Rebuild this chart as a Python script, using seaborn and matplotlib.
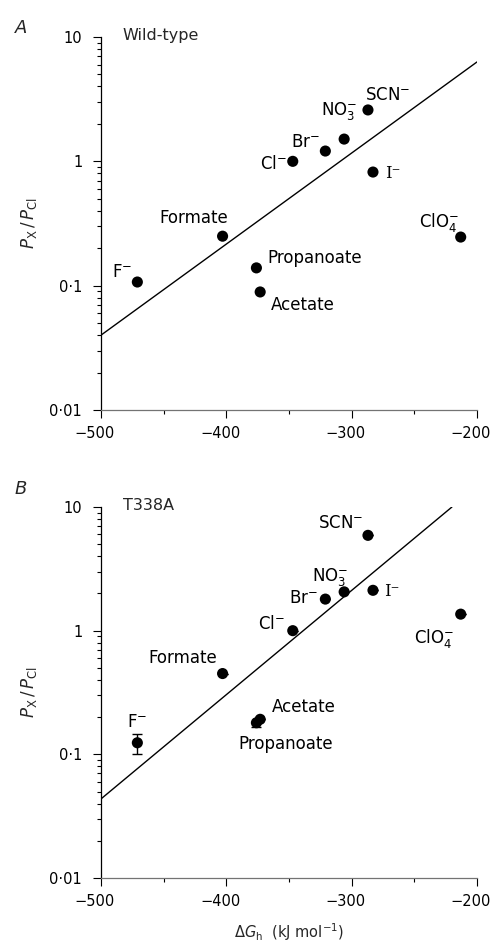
import matplotlib
matplotlib.use("Agg")
import matplotlib.pyplot as plt
from matplotlib.ticker import FixedLocator, FixedFormatter, LogLocator, NullFormatter
from matplotlib.transforms import ScaledTranslation
import seaborn as sns
import pandas as pd

# Hydration free energy of each anion (kJ/mol)
anions = ["F", "Cl", "Br", "I", "NO3", "SCN", "ClO4", "Formate", "Acetate", "Propanoate"]
delta_g = [-471, -347, -321, -283, -306, -287, -213, -403, -373, -376]

# Relative permeability P_X / P_Cl
p_wild = [0.107, 1.0, 1.21, 0.82, 1.51, 2.59, 0.246, 0.25, 0.089, 0.139]
p_t338a = [0.124, 1.0, 1.80, 2.12, 2.06, 5.9, 1.36, 0.45, 0.192, 0.180]

# Error bars (lower, upper) for the mutant
err_lo_t338a = [0.024, 0, 0, 0, 0, 0, 0, 0, 0, 0.013]
err_hi_t338a = [0.021, 0, 0, 0, 0, 0, 0, 0, 0, 0.0]

# Fitted lines (end points)
fit_x_wild = [-500, -200]
fit_y_wild = [0.040, 6.3]
fit_x_t338a = [-500, -220]
fit_y_t338a = [0.0436, 10.0]

y_ticks = [0.01, 0.1, 1, 10]
y_tick_labels = ["0\u00b701", "0\u00b71", "1", "10"]
x_ticks = [-500, -400, -300, -200]
x_tick_labels = ["\u2212500", "\u2212400", "\u2212300", "\u2212200"]

label_text = {
    "F": "F$^{-}$", "Cl": "Cl$^{-}$", "Br": "Br$^{-}$", "I": "I\u207b",
    "NO3": "NO$_3^{-}$", "SCN": "SCN$^{-}$", "ClO4": "ClO$_4^{-}$",
    "Formate": "Formate", "Acetate": "Acetate", "Propanoate": "Propanoate",
}

# label placement: (dx px, dy px downward, ha)
place_wild = {
    "SCN": (-3, -10, "left"), "NO3": (13, -24, "right"), "Br": (-5, -4, "right"),
    "Cl": (-6, 8, "right"), "I": (12, 6, "left"), "ClO4": (-2, -10, "right"),
    "Formate": (-29, -13, "center"), "Propanoate": (11, -5, "left"),
    "Acetate": (11, 18, "left"), "F": (-5, -5, "right"),
}
place_t338a = {
    "SCN": (-5, -7, "right"), "NO3": (4, -11, "right"), "Br": (-7, 4, "right"),
    "I": (11, 6, "left"), "Cl": (-8, -2, "right"), "ClO4": (-7, 29, "right"),
    "Formate": (-5, -11, "right"), "Acetate": (12, -7, "left"),
    "Propanoate": (-18, 26, "left"), "F": (0, -16, "center"),
}

sns.set_theme(style="ticks")
plt.rcParams["font.family"] = ["DejaVu Sans"]
plt.rcParams["mathtext.fontset"] = "dejavusans"

W, H = 495, 944
fig = plt.figure(figsize=(W / 100, H / 100), dpi=100)
axA = fig.add_axes([101 / W, 1 - 410 / H, 376 / W, 373 / H])
axB = fig.add_axes([101 / W, 1 - 878 / H, 376 / W, 371 / H])


def draw_panel(ax, pvals, fit_x, fit_y, place, title, letter, letter_top_px, err=None):
    df = pd.DataFrame({"dG": delta_g, "P": pvals, "anion": anions})
    ax.set_yscale("log")
    ax.set_xlim(-500, -200)
    ax.set_ylim(0.01, 10)
    ax.plot(fit_x, fit_y, color="black", lw=1.0, zorder=2)
    if err is not None:
        ax.errorbar(df["dG"], df["P"], yerr=[err[0], err[1]], fmt="none",
                    ecolor="black", elinewidth=1.0, capsize=3.5, capthick=1.0, zorder=3)
    sns.scatterplot(data=df, x="dG", y="P", ax=ax, color="black", s=64,
                    edgecolor="none", zorder=4, legend=False)
    for name, x, y in zip(anions, delta_g, pvals):
        dx, dy, ha = place[name]
        kw = {}
        if name == "I":
            kw["family"] = "DejaVu Serif"
        ax.annotate(label_text[name], (x, y), xytext=(dx * 0.72, -dy * 0.72),
                    textcoords="offset points", ha=ha, va="baseline",
                    fontsize=12, color="black", **kw)
    ax.text(0.058, 1.025, title, transform=ax.transAxes, ha="left", va="top",
            fontsize=11.5)
    ax.text(15 / W, 1 - letter_top_px / H, letter, transform=fig.transFigure,
            ha="left", va="top", fontsize=13, style="italic")

    ax.yaxis.set_major_locator(FixedLocator(y_ticks))
    ax.yaxis.set_major_formatter(FixedFormatter(y_tick_labels))
    ax.yaxis.set_minor_locator(LogLocator(base=10, subs=range(2, 10)))
    ax.yaxis.set_minor_formatter(NullFormatter())
    ax.xaxis.set_major_locator(FixedLocator(x_ticks))
    ax.xaxis.set_major_formatter(FixedFormatter(x_tick_labels))
    ax.xaxis.set_minor_locator(FixedLocator([-450, -350, -250]))

    ax.tick_params(which="major", length=5.5, width=0.8, color="black",
                   labelsize=10.5, labelcolor="black")
    ax.tick_params(axis="y", which="major", pad=8)
    ax.tick_params(axis="x", which="major", pad=6)
    ax.tick_params(which="minor", length=3, width=0.8, color="black")
    # centre the digits (not the minus sign) under each tick
    shift = ScaledTranslation(-0.06, 0, fig.dpi_scale_trans)
    for lab in ax.xaxis.get_majorticklabels():
        lab.set_transform(lab.get_transform() + shift)

    for side in ("top", "right"):
        ax.spines[side].set_visible(False)
    ax.spines["left"].set_color("black")
    ax.spines["left"].set_linewidth(0.9)
    ax.spines["bottom"].set_color("0.45")
    ax.spines["bottom"].set_linewidth(0.9)
    ax.set_facecolor("white")

    ax.set_ylabel("$P_\\mathrm{X}\\,/\\,P_\\mathrm{Cl}$", fontsize=12)
    ax.yaxis.set_label_coords(-0.165, 0.5)
    ax.set_xlabel("")


draw_panel(axA, p_wild, fit_x_wild, fit_y_wild, place_wild, "Wild-type", "A", 19)
draw_panel(axB, p_t338a, fit_x_t338a, fit_y_t338a, place_t338a, "T338A", "B", 480,
           err=(err_lo_t338a, err_hi_t338a))

axB.set_xlabel("\u0394$G_\\mathrm{h}$  (kJ mol$^{-1}$)", fontsize=10.5)
axB.xaxis.set_label_coords(0.5, -0.118)

fig.patch.set_facecolor("white")
fig.savefig("out.png", dpi=100, facecolor="white")
